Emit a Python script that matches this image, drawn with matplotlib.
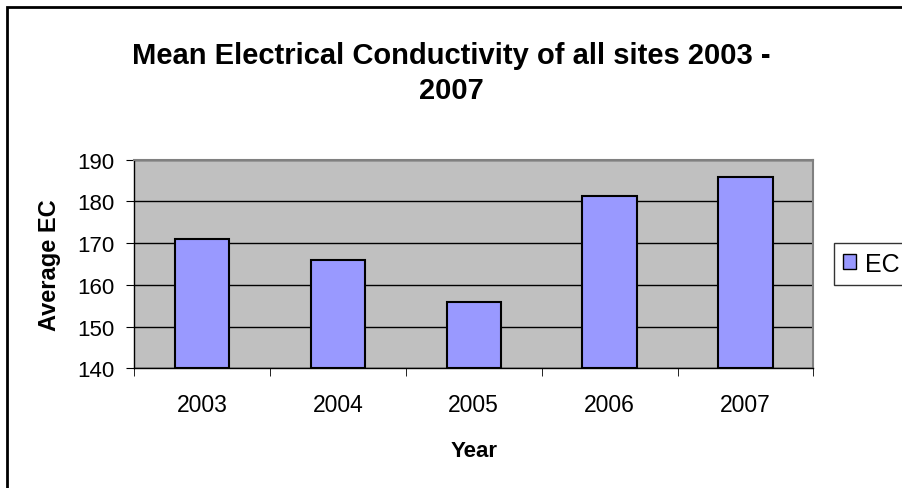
import matplotlib
matplotlib.use("Agg")
import matplotlib.pyplot as plt
from matplotlib.patches import Rectangle

years = ["2003", "2004", "2005", "2006", "2007"]
ec_values = [171.0, 166.0, 155.9, 181.3, 185.9]
y_ticks = [140, 150, 160, 170, 180, 190]

plt.rcParams['font.family'] = ['Liberation Sans', 'DejaVu Sans']

fig = plt.figure(figsize=(9.02, 4.89), dpi=100)
fig.patch.set_facecolor('white')
# outer chart border
fig.patches.append(Rectangle((7.5/902, -0.1), 1.2, 1 - 7.5/489 + 0.1, transform=fig.transFigure,
                             fill=False, edgecolor='black', linewidth=2.0))

ax = fig.add_axes([134.3/902, 1 - 369.3/489, (813.3-134.3)/902, (369.3-160.7)/489])
ax.set_facecolor('#C0C0C0')
x = range(len(years))
ax.bar(x, [v - 140 for v in ec_values], bottom=140, width=0.4, color='#9999FF',
       edgecolor='black', linewidth=1.5, zorder=3, label='EC')
ax.set_xlim(-0.5, len(years) - 0.5)
ax.set_ylim(140, 190)
ax.set_yticks(y_ticks)
ax.set_yticklabels([str(t) for t in y_ticks], fontsize=16)
ax.yaxis.grid(True, color='black', linewidth=1.0, zorder=1)
ax.set_axisbelow(True)
ax.set_xticks(x)
ax.set_xticklabels(years, fontsize=16.5)
ax.tick_params(axis='x', length=0, pad=18)
ax.set_xticks([i + 0.5 for i in range(-1, len(years))], minor=True)
ax.tick_params(axis='x', which='minor', length=6, direction='out', color='black')
ax.tick_params(axis='y', length=6, direction='out', color='black', pad=8)
for side in ['top', 'right']:
    ax.spines[side].set_color('#808080')
    ax.spines[side].set_linewidth(1.5)
for side in ['left', 'bottom']:
    ax.spines[side].set_color('black')
    ax.spines[side].set_linewidth(1.0)

ax.set_xlabel('Year', fontsize=16, fontweight='bold', labelpad=17)
ax.set_ylabel('Average EC', fontsize=17, fontweight='bold', labelpad=12)

fig.text(0.5, 1 - 64/489, 'Mean Electrical Conductivity of all sites 2003 -', ha='center',
         va='baseline', fontsize=21, fontweight='bold')
fig.text(0.5, 1 - 99/489, '2007', ha='center', va='baseline', fontsize=21, fontweight='bold')

leg = ax.legend(loc='center left', bbox_to_anchor=(834/902, 1 - 264.5/489), bbox_transform=fig.transFigure,
                fontsize=18, frameon=True, fancybox=False, handlelength=0.52, handleheight=0.52,
                handletextpad=0.36, borderpad=0.36, borderaxespad=0)
leg.get_frame().set_edgecolor('black')
leg.get_frame().set_linewidth(1.0)
for h in leg.legend_handles:
    h.set_linewidth(1.0)

fig.savefig('out.png', dpi=100)
